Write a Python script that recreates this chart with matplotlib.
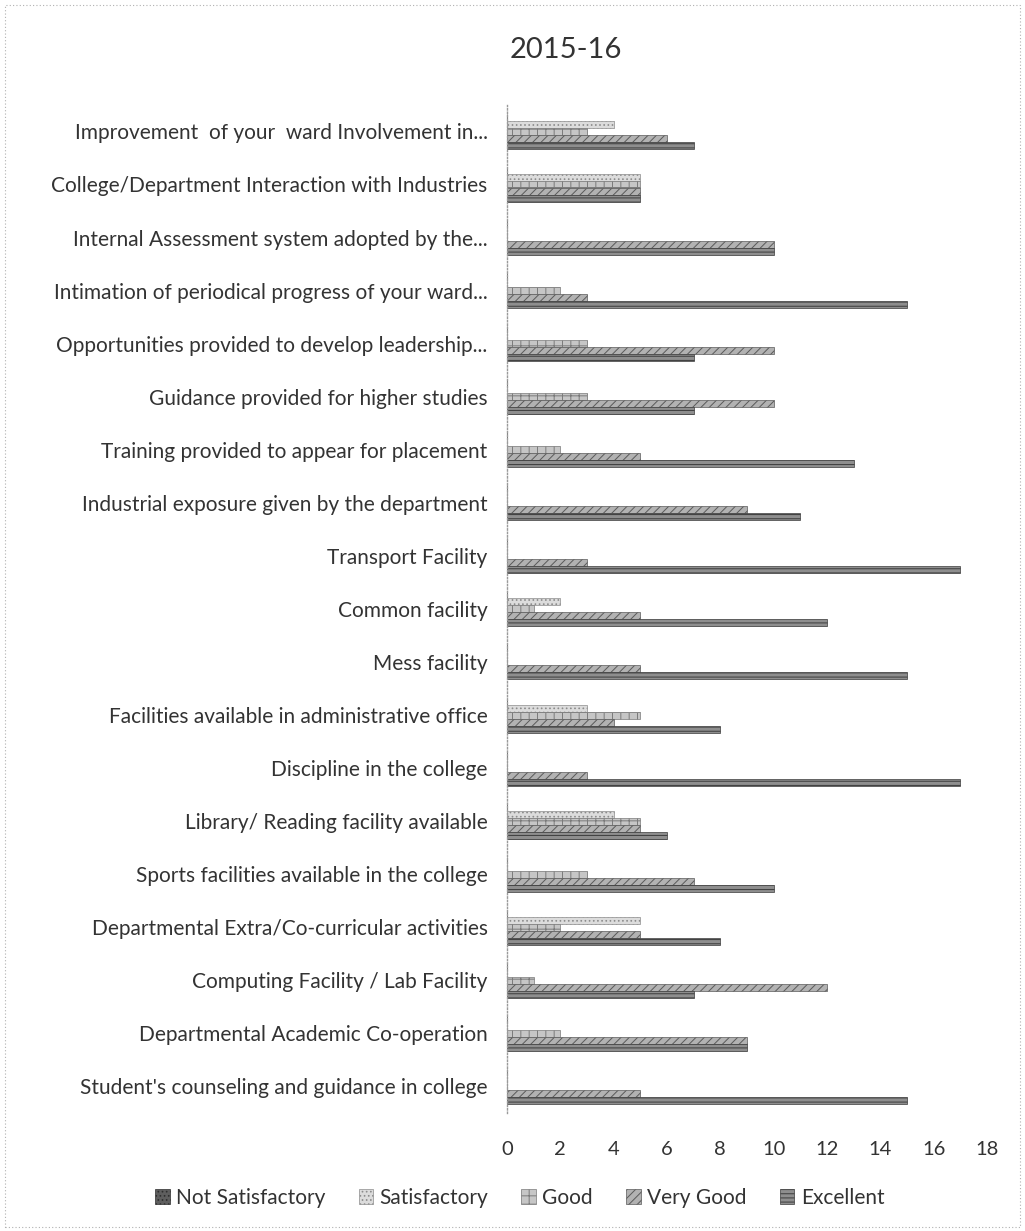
import matplotlib
matplotlib.use("Agg")
import matplotlib.pyplot as plt
import numpy as np
from matplotlib.patches import Rectangle

plt.rcParams['font.family'] = ['Lato', 'DejaVu Sans']
plt.rcParams['hatch.linewidth'] = 0.7

title = "2015-16"

# categories listed bottom -> top (as drawn)
categories = [
    "Student's counseling and guidance in college",
    "Departmental Academic Co-operation",
    "Computing Facility / Lab Facility",
    "Departmental Extra/Co-curricular activities",
    "Sports facilities available in the college",
    "Library/ Reading facility available",
    "Discipline in the college",
    "Facilities available in administrative office",
    "Mess facility",
    "Common facility",
    "Transport Facility",
    "Industrial exposure given by the department",
    "Training provided to appear for placement",
    "Guidance provided for higher studies",
    "Opportunities provided to develop leadership...",
    "Intimation of periodical progress of your ward...",
    "Internal Assessment system adopted by the...",
    "College/Department Interaction with Industries",
    "Improvement  of your  ward Involvement in...",
]

series_names = ["Not Satisfactory", "Satisfactory", "Good", "Very Good", "Excellent"]

not_satisfactory = [0, 0, 0, 0, 0, 0, 0, 0, 0, 0, 0, 0, 0, 0, 0, 0, 0, 0, 0]
satisfactory     = [0, 0, 0, 5, 0, 4, 0, 3, 0, 2, 0, 0, 0, 0, 0, 0, 0, 5, 4]
good             = [0, 2, 1, 2, 3, 5, 0, 5, 0, 1, 0, 0, 2, 3, 3, 2, 0, 5, 3]
very_good        = [5, 9, 12, 5, 7, 5, 3, 4, 5, 5, 3, 9, 5, 10, 10, 3, 10, 5, 6]
excellent        = [15, 9, 7, 8, 10, 6, 17, 8, 15, 12, 17, 11, 13, 7, 7, 15, 10, 5, 7]

x_ticks = [0, 2, 4, 6, 8, 10, 12, 14, 16, 18]

values = [not_satisfactory, satisfactory, good, very_good, excellent]
faces = ['#5e5e5e', '#dcdcdc', '#c6c6c6', '#b2b2b2', '#8e8e8e']
hatch_cols = ['#2e2e2e', '#8c8c8c', '#7a7a7a', '#5a5a5a', '#3c3c3c']
hatches = ['....', '....', '++', '////', '----']

fig = plt.figure(figsize=(10.25, 12.31), dpi=100)
ax = fig.add_axes([0.4946, 0.0959, 0.4683, 0.8189])

y = np.arange(len(categories))
h = 0.132
offsets = [2 * h, h, 0, -h, -2 * h]
handles = []
for vals, off, fc, hc, ht, name in zip(values, offsets, faces, hatch_cols, hatches, series_names):
    b = ax.barh(y + off, vals, height=h, color=fc, edgecolor=hc, hatch=ht,
                linewidth=0.5, label=name)
    handles.append(b)

ax.set_xlim(0, 18)
ax.set_ylim(-0.5, len(categories) - 0.5)
ax.set_xticks(x_ticks)
ax.set_xticklabels([str(t) for t in x_ticks], fontsize=14.5, color='#333333')
ax.set_yticks(y)
ax.set_yticklabels(categories, fontsize=15, color='#333333')
ax.tick_params(axis='both', length=0)
ax.tick_params(axis='x', pad=20)
ax.tick_params(axis='y', pad=14)
for s in ['top', 'right', 'bottom']:
    ax.spines[s].set_visible(False)
ax.spines['left'].set_color('#9a9a9a')
ax.spines['left'].set_linestyle((0, (1, 1.5)))
ax.spines['left'].set_linewidth(1.0)

fig.text(0.552, 0.959, title, fontsize=21, ha='center', va='center', color='#333333')

fig.legend(handles=handles, labels=series_names, loc='center', ncol=5,
           bbox_to_anchor=(0.507, 0.027), frameon=False, fontsize=15,
           handlelength=0.7, handleheight=0.7, handletextpad=0.3, columnspacing=1.6,
           labelcolor='#333333')

border = Rectangle((0.005, 0.003), 0.99, 0.993, transform=fig.transFigure,
                   fill=False, edgecolor='#b0b0b0', linestyle=(0, (1, 2)), linewidth=0.8)
fig.patches.append(border)

fig.savefig("out.png", dpi=100, facecolor='white')
